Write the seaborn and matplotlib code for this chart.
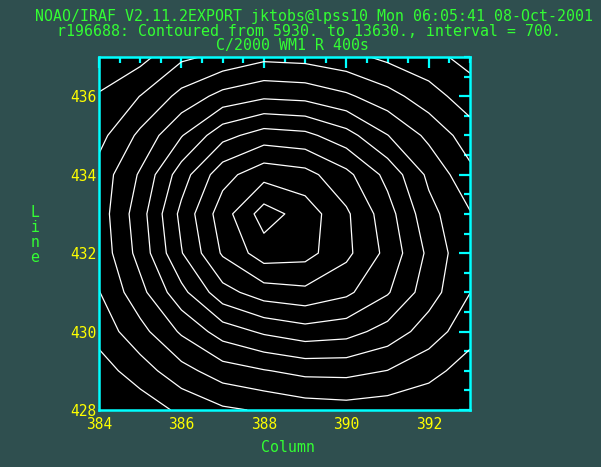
import numpy as np
import pandas as pd
import seaborn as sns
import matplotlib
matplotlib.use('Agg')
import matplotlib.pyplot as plt
from matplotlib.ticker import MultipleLocator

# image section: columns 384-393, lines 428-437 (pixel values)
columns = [384, 385, 386, 387, 388, 389, 390, 391, 392, 393]
lines = [428, 429, 430, 431, 432, 433, 434, 435, 436, 437]

line_428 = [6000, 6199, 6782, 7213, 7409, 7634, 7726, 7634, 7500, 7400]
line_429 = [6300, 7003, 7779, 8401, 8687, 8928, 8943, 8716, 8273, 7700]
line_430 = [6900, 7792, 8836, 9761, 10247, 10538, 10402, 9858, 9095, 8301]
line_431 = [7300, 8501, 9916, 11274, 11888, 12051, 11676, 10898, 9741, 8740]
line_432 = [7568, 8989, 10791, 12321, 13300, 13180, 12399, 11325, 9974, 8820]
line_433 = [7660, 9126, 11018, 12606, 13950, 13320, 12347, 11120, 9663, 8780]
line_434 = [7600, 8821, 10500, 11970, 12684, 12476, 11725, 10616, 9278, 8216]
line_435 = [7100, 8187, 9384, 10597, 11154, 11018, 10402, 9449, 8559, 7660]
line_436 = [6700, 7343, 8244, 8973, 9308, 9217, 8852, 8301, 7634, 6957]
line_437 = [6050, 6400, 7200, 7500, 7858, 7792, 7554, 7167, 6850, 6400]

# contour levels from the title
level_min = 5930
level_max = 13630
interval = 700

title_lines = [
    "NOAO/IRAF V2.11.2EXPORT jktobs@lpss10 Mon 06:05:41 08-Oct-2001",
    "r196688: Contoured from 5930. to 13630., interval = 700.",
    "C/2000 WM1 R 400s",
]

BG = '#2f4f4f'
CYAN = '#00ffff'
YELLOW = '#ffff00'
GREEN = '#33ff33'

rows = [line_428, line_429, line_430, line_431, line_432,
        line_433, line_434, line_435, line_436, line_437]
df = pd.DataFrame(rows, index=lines, columns=columns)

sns.set_style('dark', rc={'axes.facecolor': 'black', 'figure.facecolor': BG,
                          'axes.edgecolor': CYAN, 'axes.grid': False})
plt.rcParams['font.family'] = ['DejaVu Sans Mono']

fig = plt.figure(figsize=(6.01, 4.67), dpi=100, facecolor=BG)
ax = fig.add_axes([99 / 601, 1 - 410 / 467, 371 / 601, 353 / 467])

levels = np.arange(level_min, level_max + 1, interval)
ax.contour(df.columns.values, df.index.values, df.values,
           levels=levels, colors='white', linewidths=0.9)

ax.set_xlim(384, 393)
ax.set_ylim(428, 437)
ax.xaxis.set_major_locator(MultipleLocator(2))
ax.xaxis.set_minor_locator(MultipleLocator(0.5))
ax.yaxis.set_major_locator(MultipleLocator(2))
ax.yaxis.set_minor_locator(MultipleLocator(0.5))

for s in ax.spines.values():
    s.set_color(CYAN)
    s.set_linewidth(1.8)

ax.tick_params(which='both', direction='in', top=True, right=True,
               color=CYAN, labelcolor=YELLOW, labelsize=10.5)
ax.tick_params(which='major', length=8, width=1.6)
ax.tick_params(which='minor', length=4.3, width=1.6)
ax.tick_params(axis='x', which='major', pad=5)
ax.tick_params(axis='y', which='major', pad=1.5)

# header lines
fs = 10.7
fig.text(314 / 601, 1 - 16.7 / 467, title_lines[0], color=GREEN, fontsize=fs,
         ha='center', va='center')
fig.text(309 / 601, 1 - 31.7 / 467, title_lines[1], color=GREEN, fontsize=fs,
         ha='center', va='center')
fig.text(293 / 601, 1 - 45.5 / 467, title_lines[2], color=GREEN, fontsize=fs,
         ha='center', va='center')

# axis labels
fig.text(288.5 / 601, 1 - 447 / 467, 'Column', color=GREEN, fontsize=fs,
         ha='center', va='center')
fig.text(35 / 601, 1 - 235 / 467, 'L\ni\nn\ne', color=GREEN, fontsize=fs,
         ha='center', va='center', linespacing=1.0)

fig.savefig('out.png', dpi=100, facecolor=BG)
